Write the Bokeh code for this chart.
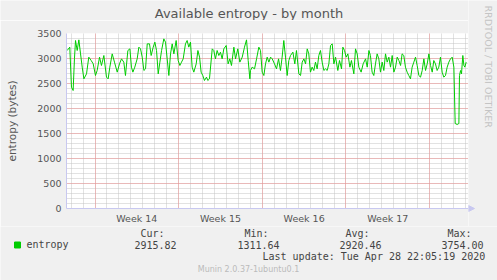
from bokeh.plotting import figure
from bokeh.models import FixedTicker, Grid, Label, Range1d
from bokeh.layouts import column, row
from bokeh.embed import file_html
from bokeh.resources import INLINE

# time in days relative to Sunday 00:00 starting week 14
days = [-2.33, -2.11, -1.97, -1.83, -1.72, -1.63, -1.49, -1.35, -1.21, -1.07, -0.93, -0.71, -0.52, -0.32, -0.15,
        0.04, 0.18, 0.38, 0.54, 0.74, 0.96, 1.10, 1.24, 1.44, 1.63, 1.86, 2.05, 2.22, 2.41, 2.55, 2.75, 2.92,
        3.05, 3.17, 3.33, 3.53, 3.67, 3.81, 3.95, 4.09, 4.23, 4.37, 4.56, 4.70, 4.87, 5.01, 5.15, 5.29, 5.43,
        5.57, 5.76, 5.90, 6.04, 6.18, 6.32, 6.46, 6.60, 6.79, 6.96, 7.10, 7.24, 7.38, 7.57, 7.71, 7.85, 7.99,
        8.13, 8.27, 8.47, 8.61, 8.75, 8.88, 9.02, 9.16, 9.33, 9.44, 9.58, 9.81, 9.94, 10.08, 10.22, 10.36,
        10.50, 10.64, 10.78, 10.98, 11.14, 11.28, 11.42, 11.62, 11.76, 11.95, 12.12, 12.32, 12.51, 12.68,
        12.82, 12.96, 13.01, 13.15, 13.35, 13.52, 13.71, 13.85, 13.99, 14.13, 14.27, 14.41, 14.55, 14.69,
        14.83, 15.02, 15.19, 15.36, 15.52, 15.66, 15.80, 15.94, 16.08, 16.22, 16.36, 16.56, 16.72, 16.86,
        17.06, 17.20, 17.34, 17.48, 17.62, 17.76, 17.89, 18.03, 18.17, 18.31, 18.45, 18.59, 18.73, 18.87,
        19.01, 19.15, 19.29, 19.43, 19.57, 19.71, 19.85, 19.99, 20.13, 20.32, 20.46, 20.63, 20.74, 20.88,
        21.02, 21.16, 21.33, 21.46, 21.66, 21.80, 21.94, 22.08, 22.27, 22.44, 22.64, 22.78, 22.92, 23.05,
        23.19, 23.33, 23.47, 23.61, 23.75, 23.89, 24.03, 24.17, 24.31, 24.45, 24.59, 24.73, 24.87, 25.01,
        25.15, 25.29, 25.43, 25.57, 25.70, 25.84, 25.98, 26.12, 26.26, 26.40, 26.54, 26.68, 26.82, 26.96,
        27.10, 27.24, 27.38, 27.52, 27.66, 27.80, 27.94, 28.08, 28.22, 28.35, 28.49, 28.63, 28.77, 28.91,
        29.05, 29.19, 29.33, 29.47, 29.61, 29.75, 29.89, 30.03, 30.14, 30.31, 30.45, 30.50, 30.59, 30.67,
        30.78, 30.87, 30.95, 31.06]
entropy = [3160, 3227, 2427, 2360, 2993, 3360, 3160, 3373, 3093, 2827, 2593, 2693, 3027, 2960, 2893,
           2660, 2760, 3027, 2860, 3060, 2627, 2593, 2827, 3093, 2927, 2727, 2893, 2993, 2927, 2660, 3160, 3193,
           2827, 2727, 2827, 2993, 3227, 3193, 3027, 2760, 2793, 3293, 3293, 3060, 3227, 3327, 3160, 2693, 2927,
           3160, 3393, 3327, 2993, 2660, 3093, 3293, 3093, 3360, 2960, 2860, 2927, 2993, 3293, 3360, 3227, 3327,
           2827, 2727, 2893, 3160, 3027, 2727, 2660, 2560, 2627, 2560, 2593, 3193, 3160, 2993, 3160, 3060,
           3127, 2993, 3193, 3260, 2893, 2993, 2860, 3227, 2993, 3193, 2927, 3027, 3227, 3373,
           2960, 2593, 2760, 2827, 2793, 2993, 3227, 3160, 2727, 2660, 2893, 3027, 2927, 3027,
           2993, 2893, 2793, 2993, 2760, 3027, 3360, 3027, 2660, 2960, 3060, 3127, 2893, 3160,
           2693, 2660, 2927, 2993, 2893, 3193, 3093, 2727, 2827, 2760, 2927, 2793, 3060, 3160,
           2927, 2760, 2793, 2760, 2893, 3260, 3293, 2893, 3027, 2760, 2960, 2793, 3227, 3160,
           3027, 3093, 2827, 2960, 2693, 3193, 3093, 2827, 2727, 2893, 2993, 2827, 3160, 3060,
           2727, 2660, 2893, 3093, 2993, 2727, 2927, 2760, 3093, 2927, 3027, 2827, 3060, 2727,
           2827, 3027, 2960, 2860, 3093, 3060, 2827, 2727, 2660, 2593, 2827, 2927, 3027, 2860,
           2660, 2627, 2760, 2993, 2760, 2893, 3093, 2860, 2727, 2960, 2893, 2760, 2827, 3027,
           2727, 2627, 2660, 2827, 2927, 2993, 3027, 2827, 1700, 1680, 1700, 2660, 2760, 2693,
           3060, 2860, 2827, 2927]

week_lines = [0, 7, 14, 21, 28]
week_label_pos = [3.5, 10.5, 17.5, 24.5]
week_labels = ["Week 14", "Week 15", "Week 16", "Week 17"]
day_lines = list(range(-2, 32))
y_major = [0, 500, 1000, 1500, 2000, 2500, 3000, 3500]
y_minor = list(range(0, 3600, 100))

title = "Available entropy - by month"
legend_name = "entropy"
stat_names = ["Cur:", "Min:", "Avg:", "Max:"]
stat_values = ["2915.82", "1311.64", "2920.46", "3754.00"]
last_update = "Last update: Tue Apr 28 22:05:19 2020"
credit = "RRDTOOL / TOBI OETIKER"
footer = "Munin 2.0.37-1ubuntu0.1"

XS, XE = -2.385, 31.255
YS, YE = 0, 3500
W, H = 497, 280
FL, FR, FT, FB = 66, 468, 33, 208
TOP_H = 20          # title strip height
MAIN_BOTTOM = 226   # where the legend strip starts
AXC = "#c8c8f0"
BG = "#f0f0f0"
GREY = "#555555"


def strip(w, h, x0, x1, y0, y1):
    f = figure(width=w, height=h, output_backend="svg", toolbar_location=None,
               x_range=Range1d(x0, x1), y_range=Range1d(y1, y0), min_border=0,
               min_border_left=0, min_border_right=0, min_border_top=0, min_border_bottom=0,
               x_axis_type=None, y_axis_type=None,
               background_fill_color=BG, border_fill_color=BG, frame_align=False)
    f.outline_line_color = None
    f.xgrid.visible = False
    f.ygrid.visible = False
    return f


def lab(f, x, y, text, align="left", font="DejaVu Sans Mono", size="10px", color="#444444", angle=0):
    f.add_layout(Label(x=x, y=y, text=text, text_align=align, text_baseline="middle",
                       text_font=font, text_font_size=size, text_color=color,
                       angle=angle, angle_units="deg"))


# ---- main chart ----
p = figure(width=FR, height=MAIN_BOTTOM - TOP_H, output_backend="svg", toolbar_location=None,
           x_range=Range1d(XS, XE), y_range=Range1d(YS, YE),
           min_border_left=FL, min_border_right=0, min_border_top=FT - TOP_H,
           min_border_bottom=MAIN_BOTTOM - FB,
           background_fill_color="white", border_fill_color=BG, frame_align=False)
p.outline_line_color = None
p.xgrid.visible = False
p.ygrid.visible = False

p.add_layout(Grid(dimension=0, ticker=FixedTicker(ticks=day_lines), grid_line_color="#c4c4c4", grid_line_dash="1 1"))
p.add_layout(Grid(dimension=1, ticker=FixedTicker(ticks=y_minor), grid_line_color="#c4c4c4", grid_line_dash="1 1"))
p.add_layout(Grid(dimension=0, ticker=FixedTicker(ticks=week_lines), grid_line_color="#f09090", grid_line_dash="1 1"))
p.add_layout(Grid(dimension=1, ticker=FixedTicker(ticks=y_major), grid_line_color="#f09090", grid_line_dash="1 1"))

p.line(days, entropy, line_color="#00cc00", line_width=1)

ax = p.xaxis[0]
ax.ticker = FixedTicker(ticks=week_label_pos)
ax.major_label_overrides = {k: v for k, v in zip(week_label_pos, week_labels)}
ax.major_tick_line_color = None
ax.minor_tick_line_color = None
ax.major_tick_out = 0
ax.major_tick_in = 0
ax.axis_line_color = AXC
ax.major_label_standoff = 4
ax.major_label_text_font = "DejaVu Sans"
ax.major_label_text_font_size = "9.5px"
ax.major_label_text_color = GREY

ay = p.yaxis[0]
ay.ticker = FixedTicker(ticks=y_major)
ay.major_tick_line_color = None
ay.minor_tick_line_color = None
ay.major_tick_out = 0
ay.major_tick_in = 0
ay.axis_line_color = AXC
ay.major_label_standoff = 5
ay.major_label_text_font = "DejaVu Sans"
ay.major_label_text_font_size = "9.5px"
ay.major_label_text_color = GREY
ay.axis_label = "entropy (bytes)"
ay.axis_label_text_font = "DejaVu Sans"
ay.axis_label_text_font_style = "normal"
ay.axis_label_text_font_size = "10.5px"
ay.axis_label_text_color = GREY
ay.axis_label_standoff = 16

# ---- title strip (canvas-pixel coordinates) ----
top = strip(FR, TOP_H, 0, FR, 0, TOP_H)
lab(top, 248.5, 13, title, "center", "DejaVu Sans", "13px", GREY)

# ---- right strip with the vertical credit and the x-axis arrow head ----
side = strip(W - FR, MAIN_BOTTOM, FR, W, 0, MAIN_BOTTOM)
lab(side, 488, 5, credit, "left", "DejaVu Sans", "9.5px", "#c4c4c4", -90)
side.patch([FR, FR, FR + 6], [FB - 3, FB + 3, FB], fill_color=AXC, line_color=AXC)

# ---- legend strip ----
lg = strip(W, H - MAIN_BOTTOM, 0, W, MAIN_BOTTOM, H)
lg.rect(x=[17], y=[244.5], width=6, height=6, fill_color="#00cc00", line_color="#00cc00")
lab(lg, 26, 244, legend_name)
for name, val, nx, vx in zip(stat_names, stat_values, [140, 244, 345, 447], [134, 237, 339, 441]):
    lab(lg, nx, 233, name)
    lab(lg, vx, 244.5, val)
lab(lg, 262, 256, last_update)
lab(lg, 248, 269, footer, "center", "DejaVu Sans", "8px", "#bbbbbb")

layout = column(row(column(top, p, spacing=0), side, spacing=0), lg, spacing=0)
open("out.html", "w").write(file_html(layout, INLINE))
